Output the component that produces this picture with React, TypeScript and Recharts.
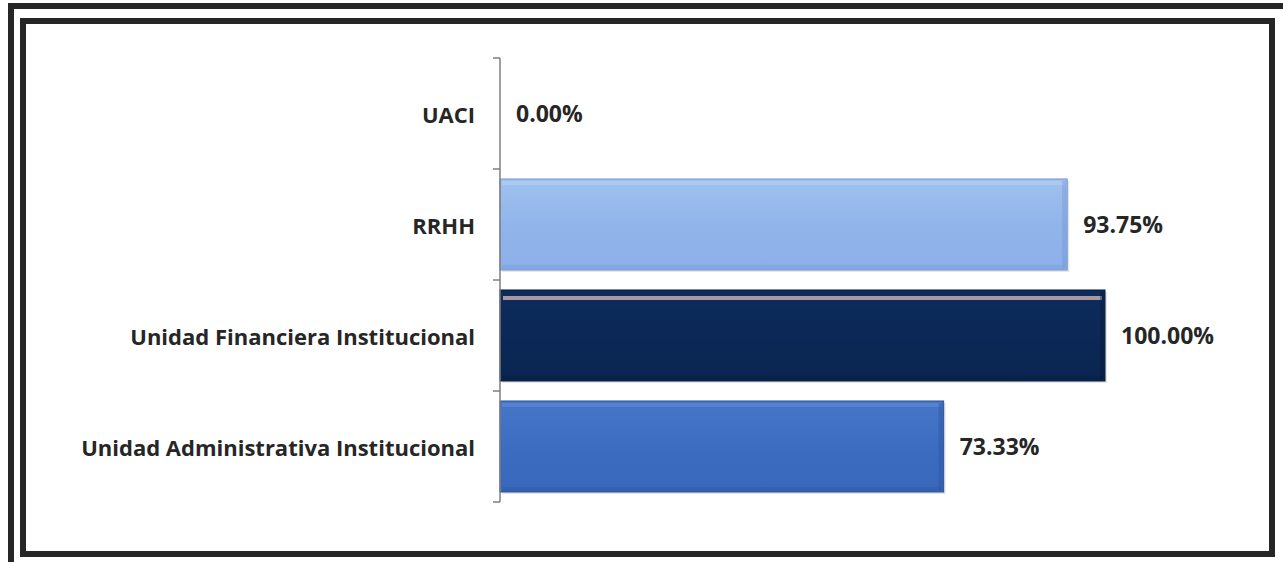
import React from "react";
import { BarChart, Bar, XAxis, YAxis, LabelList, Cell } from "recharts";

const categories = [
  "UACI",
  "RRHH",
  "Unidad Financiera Institucional",
  "Unidad Administrativa Institucional",
];
const values = [0, 93.75, 100, 73.33];
const valueLabels = ["0.00%", "93.75%", "100.00%", "73.33%"];
const barStyles = ["none", "light", "dark", "mid"];

const data = categories.map((c, i) => ({
  name: c,
  value: values[i],
  label: valueLabels[i],
  style: barStyles[i],
}));

const W = 1283;
const H = 562;
const M = { top: 58, right: 178, bottom: 60, left: 0 };
const AXIS_W = 500;
const BAND = (H - M.top - M.bottom) / categories.length;
const FONT = "'Open Sans', 'Noto Sans', sans-serif";
const FS = 22;
const FS_VAL = 23;

const palettes: Record<string, { top: string; mid: string; bot: string; edge: string; hi: string }> = {
  light: { top: "#a0c1ef", mid: "#91b5eb", bot: "#8cb0e7", edge: "#6f95d3", hi: "#b6cef4" },
  dark: { top: "#0d2b5c", mid: "#0b2856", bot: "#0a2550", edge: "#061a3c", hi: "#b29ea2" },
  mid: { top: "#4576c6", mid: "#3c6dc1", bot: "#3867bb", edge: "#2a5396", hi: "#5f8bd3" },
};

const BarShape = (props: any) => {
  const { x, y, width, height, payload } = props;
  const p = palettes[payload.style];
  if (!p || width <= 0) return null;
  const id = "g-" + payload.style;
  return (
    <g>
      <defs>
        <linearGradient id={id} x1="0" y1="0" x2="0" y2="1">
          <stop offset="0" stopColor={p.top} />
          <stop offset="0.5" stopColor={p.mid} />
          <stop offset="1" stopColor={p.bot} />
        </linearGradient>
      </defs>
      <rect x={x + 2} y={y + 2} width={width} height={height} fill="#000" opacity={0.1} />
      <rect x={x} y={y} width={width} height={height} fill={`url(#${id})`} stroke={p.edge} strokeWidth={1} />
      {payload.style === "dark" ? (
        <rect x={x + 3} y={y + 6} width={width - 6} height={4} fill={p.hi} opacity={0.95} />
      ) : (
        <rect x={x + 2} y={y + 2} width={width - 4} height={4} fill={p.hi} opacity={0.6} />
      )}
      <rect x={x + width - 5} y={y + 2} width={4} height={height - 4} fill={p.edge} opacity={0.4} />
      <rect x={x + 2} y={y + height - 5} width={width - 4} height={4} fill={p.edge} opacity={0.3} />
    </g>
  );
};

const CatTick = (props: any) => {
  const { y, payload, index } = props;
  const ax = AXIS_W;
  return (
    <g>
      <line x1={ax - 7} x2={ax} y1={y - BAND / 2} y2={y - BAND / 2} stroke="#7f7f7f" strokeWidth={1.5} />
      {index === categories.length - 1 && (
        <line x1={ax - 7} x2={ax} y1={y + BAND / 2} y2={y + BAND / 2} stroke="#7f7f7f" strokeWidth={1.5} />
      )}
      <text x={ax - 25} y={y} textAnchor="end" dominantBaseline="central" fontFamily={FONT} fontWeight={700} fontSize={FS} fill="#262626">
        {payload.value}
      </text>
    </g>
  );
};

const ValueLabel = (props: any) => {
  const { x, y, width, height, value } = props;
  return (
    <text x={x + width + 16} y={y + height / 2} dominantBaseline="central" fontFamily={FONT} fontWeight={700} fontSize={FS_VAL} fill="#262626">
      {value}
    </text>
  );
};

export default function App() {
  return (
    <div style={{ position: "absolute", left: 0, top: 0, width: W, height: H, background: "#fff", overflow: "hidden" }}>
      <div style={{ position: "absolute", left: 8, top: 3, width: 1290, height: 575, border: "6px solid #262626", boxSizing: "border-box" }} />
      <div style={{ position: "absolute", left: 20, top: 18, width: 1255, height: 539, border: "6px solid #262626", boxSizing: "border-box" }} />
      <div style={{ position: "absolute", left: 0, top: 0 }}>
        <BarChart width={W} height={H} data={data} layout="vertical" margin={M} barCategoryGap="9%">
          <XAxis type="number" domain={[0, 100]} hide />
          <YAxis
            type="category"
            dataKey="name"
            width={AXIS_W}
            axisLine={{ stroke: "#7f7f7f", strokeWidth: 1.5 }}
            tickLine={false}
            tick={<CatTick />}
            interval={0}
          />
          <Bar dataKey="value" isAnimationActive={false} shape={<BarShape />}>
            {data.map((d, i) => (
              <Cell key={i} />
            ))}
            <LabelList dataKey="label" content={<ValueLabel />} />
          </Bar>
        </BarChart>
      </div>
    </div>
  );
}
